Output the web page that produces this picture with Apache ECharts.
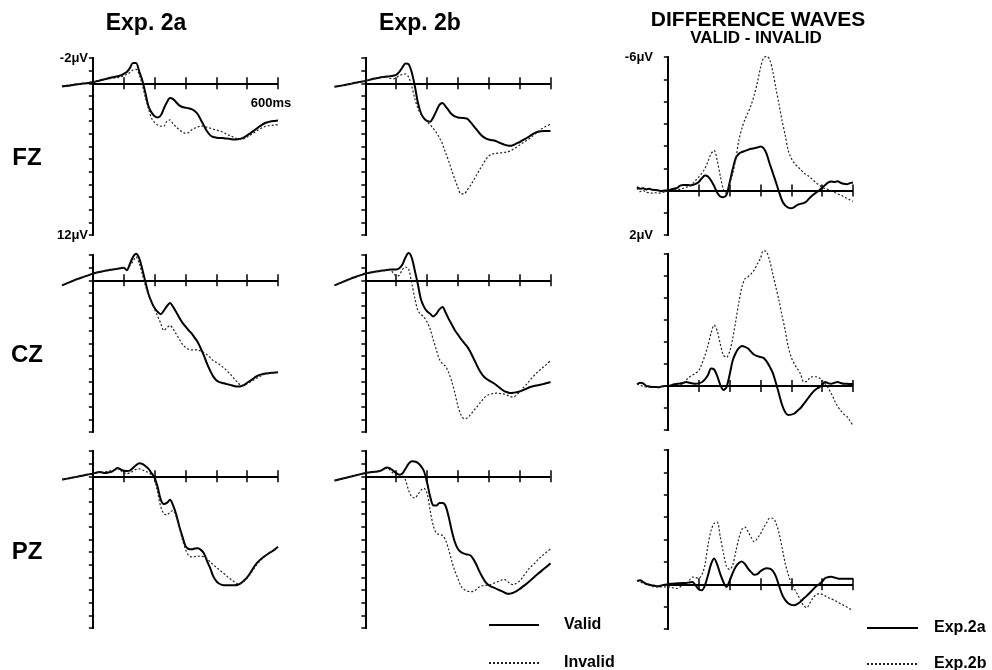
<!DOCTYPE html>
<html>
<head>
<meta charset="utf-8">
<script src="https://cdn.jsdelivr.net/npm/echarts@6/dist/echarts.min.js"></script>
<style>
  html, body { margin: 0; padding: 0; background: #fff; }
  #chart { width: 992px; height: 670px; }
</style>
</head>
<body>
<div id="chart"></div>
<script>
// ERP waveforms, sampled every 10 ms from -100 to 600 ms (values in µV, negative up)
const times = Array.from({ length: 71 }, (_, i) => -100 + i * 10);
const tickTimes = [0, 100, 200, 300, 400, 500, 600];

const fz2aValid = [0.25,0.22,0.2,0.15,0.12,0.08,0.05,0.02,0.0,-0.05,-0.08,-0.15,-0.2,-0.28,-0.33,-0.4,-0.45,-0.5,-0.55,-0.62,-0.75,-0.9,-1.2,-1.6,-1.6,-0.95,-0.25,0.75,1.8,2.3,2.6,2.7,2.55,2.0,1.5,1.16,1.25,1.5,1.75,1.88,1.93,1.97,2.05,2.2,2.45,2.9,3.35,3.8,4.1,4.25,4.3,4.32,4.33,4.37,4.38,4.42,4.44,4.42,4.38,4.27,4.12,3.95,3.78,3.6,3.42,3.25,3.12,3.05,3.0,2.98,2.95];
const fz2aInvalid = [0.2,0.17,0.14,0.1,0.07,0.04,0.02,-0.02,-0.05,-0.08,-0.1,-0.15,-0.2,-0.25,-0.3,-0.33,-0.38,-0.42,-0.45,-0.5,-0.6,-0.7,-0.85,-1.05,-1.1,-0.7,0.1,1.1,2.0,2.75,3.1,3.3,3.4,3.4,3.0,2.9,3.2,3.45,3.68,3.85,3.95,3.9,3.7,3.55,3.45,3.38,3.4,3.48,3.55,3.62,3.7,3.76,3.85,3.98,4.1,4.2,4.32,4.4,4.42,4.38,4.25,4.1,3.95,3.78,3.63,3.5,3.4,3.36,3.33,3.3,3.28];
const fz2bValid = [0.27,0.24,0.2,0.15,0.1,0.06,0.0,-0.05,-0.1,-0.14,-0.18,-0.25,-0.32,-0.38,-0.42,-0.47,-0.5,-0.53,-0.56,-0.6,-0.66,-0.9,-1.25,-1.57,-1.52,-0.9,0.18,1.5,2.35,2.78,2.98,3.04,2.7,2.2,1.7,1.55,1.82,2.15,2.45,2.62,2.7,2.73,2.75,2.8,3.05,3.35,3.65,3.95,4.2,4.35,4.45,4.5,4.55,4.65,4.75,4.85,4.92,4.95,4.88,4.76,4.65,4.5,4.38,4.22,4.06,3.92,3.84,3.8,3.78,3.78,3.78];
const fz2bInvalid = [0.26,0.23,0.2,0.15,0.1,0.05,0.0,-0.05,-0.1,-0.14,-0.18,-0.25,-0.3,-0.36,-0.4,-0.45,-0.48,-0.5,-0.4,-0.35,-0.45,-0.6,-0.7,-0.74,-0.5,0.2,1.2,1.95,2.45,2.8,3.05,3.3,3.57,3.9,4.3,4.8,5.5,6.15,6.9,7.6,8.25,8.75,8.75,8.45,8.1,7.7,7.28,6.85,6.45,6.05,5.75,5.6,5.55,5.52,5.5,5.47,5.42,5.35,5.2,5.05,4.89,4.72,4.56,4.4,4.22,4.02,3.82,3.62,3.48,3.35,3.25];

const cz2aValid = [0.4,0.3,0.2,0.1,0.0,-0.1,-0.18,-0.27,-0.35,-0.44,-0.53,-0.6,-0.65,-0.7,-0.75,-0.8,-0.84,-0.88,-0.92,-0.96,-1.0,-0.8,-1.3,-1.85,-2.1,-1.75,-0.9,0.1,1.06,1.7,2.2,2.5,2.68,2.4,2.05,1.8,2.1,2.5,2.95,3.35,3.65,3.95,4.2,4.55,4.9,5.4,5.95,6.6,7.15,7.6,7.9,8.05,8.12,8.18,8.25,8.3,8.38,8.41,8.38,8.3,8.1,7.95,7.78,7.6,7.48,7.42,7.38,7.35,7.32,7.3,7.28];
const cz2aInvalid = [0.4,0.31,0.21,0.11,0.01,-0.09,-0.18,-0.27,-0.36,-0.45,-0.53,-0.6,-0.66,-0.71,-0.75,-0.8,-0.84,-0.88,-0.92,-0.96,-1.0,-0.85,-1.15,-1.5,-1.85,-1.35,-0.5,0.4,1.15,1.7,2.3,2.85,3.4,3.97,3.75,3.57,3.85,4.25,4.65,5.05,5.3,5.45,5.5,5.5,5.52,5.6,5.72,5.9,6.1,6.35,6.5,6.65,6.85,7.05,7.3,7.55,7.85,8.1,8.3,8.3,8.18,8.05,7.9,7.75,7.62,7.5,7.42,7.36,7.32,7.3,7.28];
const cz2bValid = [0.4,0.3,0.2,0.1,0.0,-0.1,-0.2,-0.28,-0.37,-0.45,-0.53,-0.58,-0.63,-0.67,-0.71,-0.75,-0.78,-0.82,-0.85,-0.86,-0.85,-0.95,-1.25,-1.8,-2.15,-1.8,-0.8,0.3,1.5,2.1,2.45,2.65,2.86,2.65,2.3,2.12,2.55,3.05,3.5,3.95,4.3,4.65,4.95,5.25,5.65,6.15,6.65,7.14,7.5,7.75,7.92,8.05,8.2,8.4,8.6,8.76,8.85,8.92,8.9,8.85,8.8,8.7,8.6,8.48,8.4,8.35,8.3,8.25,8.18,8.12,8.07];
const cz2bInvalid = [0.4,0.3,0.2,0.1,0.0,-0.1,-0.2,-0.28,-0.37,-0.45,-0.53,-0.58,-0.63,-0.67,-0.71,-0.75,-0.78,-0.82,-0.8,-0.6,-0.35,-0.4,-0.85,-1.05,-0.9,0.2,1.4,2.38,2.7,2.9,3.3,3.85,4.7,5.5,6.25,6.6,6.8,7.3,8.0,8.9,9.95,10.65,10.95,10.9,10.65,10.35,10.05,9.75,9.45,9.18,9.05,8.98,8.93,8.93,8.97,9.0,9.08,9.2,9.24,9.05,8.85,8.55,8.3,8.0,7.72,7.45,7.22,7.0,6.8,6.58,6.35];

const pz2aValid = [0.26,0.22,0.17,0.12,0.08,0.03,-0.02,-0.07,-0.12,-0.17,-0.21,-0.28,-0.34,-0.3,-0.26,-0.3,-0.35,-0.5,-0.66,-0.55,-0.43,-0.42,-0.45,-0.65,-0.88,-1.04,-0.98,-0.82,-0.6,-0.25,0.1,0.85,1.85,2.2,2.1,1.86,2.3,3.0,3.95,4.75,5.5,5.75,5.78,5.72,5.7,5.82,6.1,6.7,7.25,7.9,8.3,8.5,8.6,8.62,8.62,8.62,8.62,8.58,8.45,8.25,8.0,7.65,7.25,6.9,6.65,6.45,6.27,6.1,5.95,5.78,5.58];
const pz2aInvalid = [0.26,0.22,0.17,0.12,0.08,0.03,-0.02,-0.07,-0.12,-0.17,-0.21,-0.25,-0.3,-0.32,-0.35,-0.4,-0.45,-0.52,-0.6,-0.45,-0.3,-0.21,-0.28,-0.4,-0.55,-0.58,-0.5,-0.4,-0.3,-0.1,0.3,1.3,2.4,2.95,3.06,2.85,2.7,3.2,4.0,5.0,5.75,6.25,6.38,6.35,6.32,6.33,6.36,6.5,6.78,7.0,7.2,7.4,7.6,7.8,8.02,8.2,8.38,8.5,8.48,8.3,8.05,7.75,7.38,7.03,6.75,6.5,6.28,6.1,5.93,5.76,5.58];
const pz2bValid = [0.34,0.28,0.22,0.16,0.1,0.04,-0.02,-0.08,-0.14,-0.2,-0.26,-0.3,-0.33,-0.36,-0.38,-0.45,-0.58,-0.7,-0.62,-0.45,-0.25,-0.13,-0.22,-0.6,-0.98,-1.18,-1.17,-1.06,-0.8,-0.4,0.5,1.6,2.3,2.32,2.12,2.12,2.35,3.2,4.3,5.2,5.75,6.0,6.12,6.18,6.25,6.55,7.0,7.54,8.0,8.4,8.62,8.75,8.85,8.96,9.07,9.18,9.3,9.28,9.2,9.08,8.92,8.73,8.55,8.35,8.12,7.9,7.7,7.5,7.3,7.1,6.88];
const pz2bInvalid = [0.34,0.28,0.22,0.16,0.1,0.04,-0.02,-0.08,-0.14,-0.2,-0.26,-0.3,-0.34,-0.38,-0.42,-0.48,-0.56,-0.64,-0.5,-0.25,-0.13,-0.13,-0.05,0.3,1.1,1.6,1.72,1.45,1.1,0.95,1.35,2.7,3.9,4.5,4.6,4.68,5.05,5.8,6.7,7.5,8.1,8.7,8.95,9.08,9.12,9.1,8.95,8.73,8.66,8.63,8.6,8.52,8.42,8.32,8.22,8.16,8.3,8.5,8.58,8.45,8.28,7.98,7.65,7.33,7.08,6.85,6.58,6.35,6.15,5.95,5.74];

// difference waves (valid - invalid)
const fzDiff2a = [-0.15,-0.08,-0.1,-0.05,-0.08,-0.03,-0.02,0.0,0.02,0.0,0.0,-0.05,-0.08,-0.12,-0.22,-0.25,-0.25,-0.24,-0.25,-0.3,-0.38,-0.55,-0.67,-0.63,-0.45,-0.2,0.1,0.27,0.3,0.2,-0.35,-0.95,-1.45,-1.65,-1.73,-1.78,-1.83,-1.88,-1.9,-1.93,-1.98,-1.9,-1.65,-1.2,-0.8,-0.38,0.05,0.45,0.67,0.77,0.8,0.74,0.65,0.6,0.57,0.48,0.33,0.2,0.1,0.0,-0.12,-0.25,-0.36,-0.4,-0.38,-0.42,-0.35,-0.3,-0.28,-0.33,-0.36];
const fzDiff2b = [-0.1,0.05,0.0,0.08,0.1,0.12,0.1,0.12,0.1,0.06,0.04,0.02,-0.02,-0.05,-0.05,-0.1,-0.15,-0.18,-0.3,-0.45,-0.6,-0.78,-0.98,-1.3,-1.65,-1.8,-1.35,-0.65,-0.05,0.15,-0.3,-0.75,-1.4,-2.25,-2.8,-3.2,-3.5,-3.85,-4.3,-4.85,-5.5,-5.95,-6.03,-5.88,-5.35,-4.6,-3.9,-3.15,-2.5,-1.8,-1.45,-1.22,-1.08,-0.95,-0.8,-0.7,-0.6,-0.48,-0.35,-0.25,-0.15,-0.08,-0.04,0.02,0.08,0.15,0.2,0.28,0.35,0.42,0.49];
const czDiff2a = [-0.08,-0.15,-0.12,0.0,0.02,0.05,0.04,0.06,0.02,0.0,0.0,-0.03,-0.08,-0.1,-0.12,-0.15,-0.18,-0.15,-0.12,-0.1,-0.12,-0.17,-0.3,-0.5,-0.8,-0.75,-0.45,-0.05,0.18,0.05,-0.5,-1.15,-1.5,-1.72,-1.82,-1.78,-1.7,-1.55,-1.42,-1.36,-1.32,-1.28,-1.12,-0.88,-0.6,-0.15,0.35,0.85,1.18,1.32,1.3,1.25,1.12,1.0,0.82,0.64,0.45,0.28,0.15,0.06,-0.05,-0.18,-0.12,-0.1,-0.15,-0.18,-0.14,-0.1,-0.1,-0.09,-0.08];
const czDiff2b = [-0.08,-0.05,0.02,0.04,0.05,0.07,0.05,0.03,0.02,0.0,0.0,-0.02,-0.03,-0.05,-0.06,-0.1,-0.28,-0.41,-0.5,-0.58,-0.7,-1.0,-1.38,-1.85,-2.4,-2.77,-2.5,-1.9,-1.4,-1.3,-1.56,-2.15,-2.95,-3.8,-4.5,-4.88,-4.97,-5.1,-5.28,-5.55,-5.8,-6.15,-6.1,-5.7,-5.1,-4.5,-3.9,-3.2,-2.55,-1.8,-1.3,-1.0,-0.78,-0.55,-0.2,-0.2,-0.38,-0.42,-0.42,-0.38,-0.25,-0.1,0.1,0.35,0.65,0.92,1.12,1.28,1.38,1.58,1.81];
const pzDiff2a = [-0.15,-0.18,-0.1,-0.02,0.02,0.05,0.08,0.09,0.05,0.02,0.0,-0.02,-0.03,-0.04,-0.05,-0.06,-0.06,-0.08,-0.1,0.05,0.22,0.27,0.05,-0.4,-0.9,-1.15,-0.88,-0.45,-0.1,0.12,-0.15,-0.5,-0.78,-0.95,-1.02,-0.9,-0.7,-0.54,-0.42,-0.45,-0.58,-0.67,-0.72,-0.7,-0.6,-0.35,0.05,0.45,0.7,0.85,0.92,0.94,0.88,0.78,0.64,0.52,0.38,0.24,0.1,0.0,-0.12,-0.28,-0.32,-0.33,-0.3,-0.26,-0.25,-0.25,-0.25,-0.25,-0.25];
const pzDiff2b = [-0.15,-0.1,-0.05,0.02,0.05,0.1,0.12,0.12,0.12,0.12,0.12,0.14,0.17,0.19,0.12,0.03,-0.05,-0.18,-0.32,-0.3,-0.27,-0.42,-0.85,-1.75,-2.4,-2.72,-2.78,-2.1,-1.4,-0.8,-0.66,-0.85,-1.45,-2.05,-2.45,-2.55,-2.35,-2.1,-1.9,-2.05,-2.25,-2.52,-2.75,-2.95,-2.95,-2.75,-2.3,-1.65,-0.95,-0.45,-0.05,0.2,0.45,0.72,0.95,1.05,0.85,0.62,0.47,0.42,0.45,0.52,0.6,0.66,0.72,0.8,0.88,0.94,1.02,1.1,1.16];

const rowNames = ["FZ", "CZ", "PZ"];
const colTitles = ["Exp. 2a", "Exp. 2b"];
const condNames = ["Valid", "Invalid"];
const expNames = ["Exp.2a", "Exp.2b"];

const waves = [
  [[fz2aValid, fz2aInvalid], [fz2bValid, fz2bInvalid], [fzDiff2a, fzDiff2b]],
  [[cz2aValid, cz2aInvalid], [cz2bValid, cz2bInvalid], [czDiff2a, czDiff2b]],
  [[pz2aValid, pz2aInvalid], [pz2bValid, pz2bInvalid], [pzDiff2a, pzDiff2b]],
];

const FONT = "'Liberation Sans', Arial, sans-serif";
const colLeft = [62, 334.5, 637];   // x = -100 ms
const rowTop = [[58, 58, 57], [255, 255, 254], [451, 451, 450]];
const rowHeight = [[177, 177, 178], [177, 177, 176], [177, 177, 179]];

const chart = echarts.init(document.getElementById("chart"));

const grid = [], xAxis = [], yAxis = [], series = [];

for (let r = 0; r < 3; r++) {
  for (let c = 0; c < 3; c++) {
    const g = grid.length;
    const diff = c === 2;
    grid.push({ left: colLeft[c], top: rowTop[r][c], width: 216, height: rowHeight[r][c] });

    // two axes per direction so ticks cross the axis line
    [false, true].forEach((inside) => {
      xAxis.push({
        gridIndex: g, type: "value", min: -100, max: 600, interval: 100, position: "bottom",
        axisLine: { show: false, onZero: true },
        axisTick: { inside, length: 6, customValues: tickTimes, lineStyle: { color: "#000", width: 1.5 } },
        splitLine: { show: false },
        axisLabel: { show: false },
      });
      yAxis.push({
        gridIndex: g, type: "value", inverse: true,
        min: diff ? -6 : -2, max: diff ? 2 : 12, interval: 1,
        axisLine: { onZero: true, lineStyle: { color: "#000", width: 2 } },
        axisTick: { inside, length: 4, lineStyle: { color: "#000", width: 1.5 } },
        splitLine: { show: false },
        axisLabel: {
          show: !inside && r === 0 && c !== 1,
          showMinLabel: true, showMaxLabel: true,
          // labels are anchored at the grid's left edge (-100 ms), pull them toward the axis
          margin: diff ? -16 : -26,
          formatter: (v) => (v === (diff ? -6 : -2) || v === (diff ? 2 : 12) ? v + "μV" : ""),
          color: "#000", fontSize: 13, fontWeight: "bold", fontFamily: FONT,
        },
      });
    });

    const names = diff ? expNames : condNames;
    waves[r][c].forEach((vals, k) => {
      series.push({
        type: "line", name: names[k],
        xAxisIndex: 2 * g, yAxisIndex: 2 * g,
        data: times.map((t, i) => [t, vals[i]]),
        symbol: "none", smooth: 0.3, clip: false, silent: true,
        lineStyle: k === 0
          ? { color: "#000", width: 2, type: "solid" }
          : { color: "#222", width: 1.2, type: [2, 2] },
        // time axis drawn from stimulus onset to 600 ms
        markLine: k === 0 ? {
          silent: true, symbol: "none", label: { show: false },
          lineStyle: { color: "#000", width: 2, type: "solid" },
          data: [[{ coord: [0, 0] }, { coord: [600, 0] }]],
        } : undefined,
      });
    });
  }
}

const txt = (x, y, text, size, align) => ({
  type: "text", x, y, silent: true,
  style: { text, fill: "#000", fontSize: size, fontWeight: "bold", fontFamily: FONT, align: align || "center", verticalAlign: "middle" },
});

const legendBase = {
  orient: "vertical", padding: 0, itemHeight: 14, height: 80, width: 160, selectedMode: false,
  itemStyle: { opacity: 0 },
  textStyle: { color: "#000", fontSize: 16, lineHeight: 14, fontWeight: "bold", fontFamily: FONT },
};

chart.setOption({
  animation: false,
  backgroundColor: "#fff",
  color: ["#000"],
  grid, xAxis, yAxis, series,
  legend: [
    { ...legendBase, data: condNames, left: 488, top: 617, itemWidth: 50, itemGap: 22,
      textStyle: { ...legendBase.textStyle, padding: [0, 0, 0, 20] } },
    { ...legendBase, data: expNames, left: 866, top: 620, itemWidth: 51, itemGap: 20,
      textStyle: { ...legendBase.textStyle, padding: [0, 0, 0, 11] } },
  ],
  graphic: [
    txt(146, 24, colTitles[0], 23),
    txt(420, 24, colTitles[1], 23),
    txt(758, 20, "DIFFERENCE WAVES", 21),
    txt(756, 38, "VALID - INVALID", 17),
    txt(27, 158, rowNames[0], 24),
    txt(27, 355, rowNames[1], 24),
    txt(27, 552, rowNames[2], 24),
    txt(271, 103, tickTimes[6] + "ms", 13),
  ],
});
</script>
</body>
</html>
